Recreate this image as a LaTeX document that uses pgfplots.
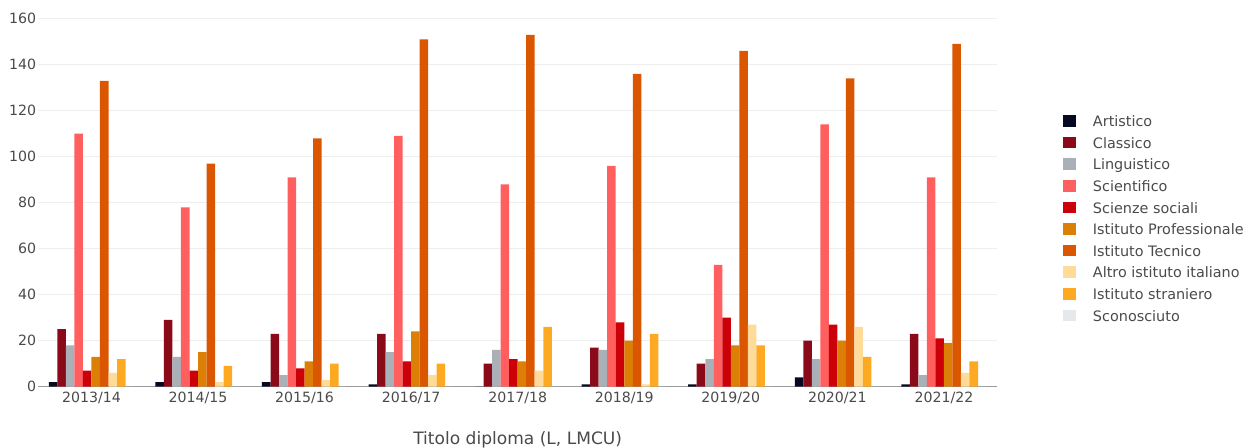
\documentclass[border=0pt]{standalone}
\usepackage{pgfplots}
\usepackage{pgfplotstable}
\pgfplotsset{compat=1.18}
\usepackage{fontspec}
\setmainfont{DejaVu Sans}
\definecolor{cArt}{HTML}{050A22}
\definecolor{cCla}{HTML}{8B0A19}
\definecolor{cLin}{HTML}{A9B0B7}
\definecolor{cSci}{HTML}{FF5F5F}
\definecolor{cSoc}{HTML}{CC0008}
\definecolor{cPro}{HTML}{DC7F06}
\definecolor{cTec}{HTML}{DB5600}
\definecolor{cAlt}{HTML}{FFDB9A}
\definecolor{cStr}{HTML}{FDAA22}
\definecolor{cSco}{HTML}{E6E9EC}
\definecolor{ctxt}{HTML}{4A4A4A}
\definecolor{cgrid}{HTML}{EEEEEE}
\definecolor{caxis}{HTML}{9A9A9A}
\newcommand\tickfont{\fontsize{10.6}{12}\selectfont}
\newcommand\legfont{\fontsize{10.8}{12}\selectfont}
\newcommand\labfont{\fontsize{12.8}{14}\selectfont}
\pgfplotsset{sqlegend/.style={legend image code/.code={\fill[##1] (0pt,0pt) rectangle (10pt,8.7pt);}}}
\pgfplotstableread{
x Art Cla Lin Sci Soc Pro Tec Alt Str Sco
0 2 25 18 110 7 13 133 6 12 0
1 2 29 13 78 7 15 97 2 9 0
2 2 23 5 91 8 11 108 3 10 0
3 1 23 15 109 11 24 151 5 10 0
4 0 10 16 88 12 11 153 7 26 0
5 1 17 16 96 28 20 136 1 23 0
6 1 10 12 53 30 18 146 27 18 0
7 4 20 12 114 27 20 134 26 13 0
8 1 23 5 91 21 19 149 6 11 0
}\datatab
\begin{document}
\begin{tikzpicture}
\useasboundingbox (0,0) rectangle (935.25pt,336pt);
\begin{axis}[
  at={(28.65pt,45.98pt)}, anchor=south west,
  scale only axis, width=719.25pt, height=277.05pt,
  xmin=-0.5, xmax=8.5, ymin=0, ymax=160.6,
  ybar=0pt, bar width=6.39pt,
  axis lines*=left,
  axis line style={-},
  y axis line style={draw=none},
  x axis line style={draw=caxis, line width=1pt},
  major tick length=0pt,
  ymajorgrids, grid style={draw=cgrid, line width=0.75pt},
  xtick={0,...,8},
  xticklabels={2013/14,2014/15,2015/16,2016/17,2017/18,2018/19,2019/20,2020/21,2021/22},
  ytick={0,20,...,160},
  /pgf/number format/assume math mode=true,
  tick label style={font=\tickfont, text=ctxt},
  yticklabel style={inner sep=0pt, anchor=east, xshift=-1.3pt},
  xticklabel style={inner sep=0pt, anchor=base, yshift=-12pt},
  xlabel={Titolo diploma (L, LMCU)},
  xlabel style={at={(axis description cs:0.5,0)}, anchor=base, yshift=-43.7pt, font=\labfont, text=ctxt, inner sep=0pt},
  legend style={at={(axis description cs:1.0686,0.735)}, anchor=north west, draw=none, fill=none,
    inner sep=0pt, outer sep=0pt, column sep=12.5pt, row sep=5.3pt, font=\legfont, text=ctxt,
    nodes={inner sep=0pt, text height=8.7pt, text depth=2.2pt}},
  legend cell align=left,
  legend style={cells={anchor=base west}},
]
\addplot[fill=cArt, draw=none, sqlegend] table[x=x, y=Art]{\datatab};
\addlegendentry{Artistico}
\addplot[fill=cCla, draw=none, sqlegend] table[x=x, y=Cla]{\datatab};
\addlegendentry{Classico}
\addplot[fill=cLin, draw=none, sqlegend] table[x=x, y=Lin]{\datatab};
\addlegendentry{Linguistico}
\addplot[fill=cSci, draw=none, sqlegend] table[x=x, y=Sci]{\datatab};
\addlegendentry{Scientifico}
\addplot[fill=cSoc, draw=none, sqlegend] table[x=x, y=Soc]{\datatab};
\addlegendentry{Scienze sociali}
\addplot[fill=cPro, draw=none, sqlegend] table[x=x, y=Pro]{\datatab};
\addlegendentry{Istituto Professionale}
\addplot[fill=cTec, draw=none, sqlegend] table[x=x, y=Tec]{\datatab};
\addlegendentry{Istituto Tecnico}
\addplot[fill=cAlt, draw=none, sqlegend] table[x=x, y=Alt]{\datatab};
\addlegendentry{Altro istituto italiano}
\addplot[fill=cStr, draw=none, sqlegend] table[x=x, y=Str]{\datatab};
\addlegendentry{Istituto straniero}
\addplot[fill=cSco, draw=none, sqlegend] table[x=x, y=Sco]{\datatab};
\addlegendentry{Sconosciuto}
\end{axis}
\end{tikzpicture}
\end{document}
